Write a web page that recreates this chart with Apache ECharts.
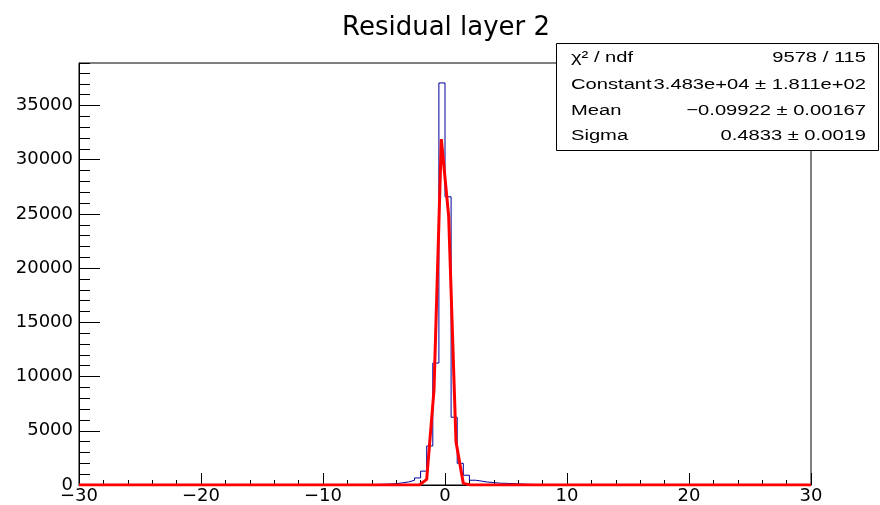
<!DOCTYPE html>
<html>
<head>
<meta charset="utf-8">
<script src="https://cdn.jsdelivr.net/npm/echarts@6/dist/echarts.min.js"></script>
<style>
html,body{margin:0;padding:0;background:#fff;}
#chart{width:880px;height:505px;}
</style>
</head>
<body>
<div id="chart"></div>
<script>
// ---- data ----
const chartTitle = 'Residual layer 2';
const xMin = -30, xMax = 30, binWidth = 0.5;
// 120 bins from -30 to 30 (width 0.5)
const binCounts = [
  0,0,0,0,0,0,0,0,0,0,0,0,0,0,0,0,0,0,0,0,
  0,0,0,0,0,0,0,0,0,0,0,0,0,0,0,0,0,0,0,0,
  0,0,5,8,12,15,22,35,55,70,90,120,200,280,430,650,1280,3600,11250,37080,
  26580,6250,2000,900,440,360,270,230,170,150,130,110,80,60,45,30,20,15,10,5,
  0,0,0,0,0,0,0,0,0,0,0,0,0,0,0,0,0,0,0,0,
  0,0,0,0,0,0,0,0,0,0,0,0,0,0,0,0,0,0,0,0
];
// fitted curve as drawn (polyline vertices)
const fitX = [-30, -2.1, -1.5, -0.9, -0.3, 0.3, 0.9, 1.5, 2.1, 30];
const fitY = [0, 5, 520, 8800, 31900, 24800, 4000, 150, 2, 0];
// tick labels
const xTickValues = [-30, -20, -10, 0, 10, 20, 30];
const xTickLabels = ['\u221230', '\u221220', '\u221210', '0', '10', '20', '30'];
const yTickValues = [0, 5000, 10000, 15000, 20000, 25000, 30000, 35000];
const yTickLabels = ['0', '5000', '10000', '15000', '20000', '25000', '30000', '35000'];
const yMax = 38920;
// stats box
const statNames = ['\u03C7\u00B2 / ndf', 'Constant', 'Mean', 'Sigma'];
const statValues = ['9578 / 115', '3.483e+04 \u00B1 1.811e+02', '\u22120.09922 \u00B1 0.00167', '0.4833 \u00B1 0.0019'];

// ---- build series data ----
const histData = binCounts.map((c, i) => [xMin + i * binWidth, c]);
histData.push([xMax, binCounts[binCounts.length - 1]]);
const fitData = fitX.map((x, i) => [x, fitY[i]]);

const chart = echarts.init(document.getElementById('chart'), null, {renderer: 'canvas'});

const statFont = '15.5px "Liberation Sans"';
const statRowsY = [58, 85, 111, 136];
const graphics = [{
  type: 'rect', z: 100,
  shape: {x: 556.5, y: 43.5, width: 322, height: 107},
  style: {fill: '#fff', stroke: '#000', lineWidth: 1}
}];
statNames.forEach((n, i) => {
  graphics.push({
    type: 'text', z: 101, x: 571, y: statRowsY[i], scaleX: 1.3,
    style: {text: n, x: 0, y: 0, align: 'left', verticalAlign: 'middle', font: statFont, fill: '#000'}
  });
  graphics.push({
    type: 'text', z: 101, x: 866, y: statRowsY[i], scaleX: 1.3,
    style: {text: statValues[i], x: 0, y: 0, align: 'right', verticalAlign: 'middle', font: statFont, fill: '#000'}
  });
});

const axisFont = 'DejaVu Sans';
chart.setOption({
  animation: false,
  backgroundColor: '#fff',
  title: {
    text: chartTitle, left: 337, top: 10,
    textStyle: {fontFamily: axisFont, fontSize: 26, fontWeight: 'normal', color: '#000'}
  },
  grid: {left: 79, right: 69, top: 63, bottom: 19, show: true, borderColor: '#000', borderWidth: 1, backgroundColor: 'transparent'},
  xAxis: {
    type: 'value', min: xMin, max: xMax, interval: 10,
    axisLine: {show: true, onZero: false, lineStyle: {color: '#000', width: 1}},
    axisTick: {show: true, inside: true, length: 12, lineStyle: {color: '#000'}},
    minorTick: {show: true, splitNumber: 5, length: 5, lineStyle: {color: '#000'}},
    axisLabel: {
      margin: 2, color: '#000', fontFamily: axisFont, fontSize: 18,
      formatter: v => { const k = xTickValues.indexOf(v); return k >= 0 ? xTickLabels[k] : ''; }
    },
    splitLine: {show: false}
  },
  yAxis: [{
    type: 'value', min: 0, max: yMax, interval: 5000, position: 'left',
    axisLine: {show: true, onZero: false, lineStyle: {color: '#000', width: 1}},
    axisTick: {show: true, inside: true, length: 21, lineStyle: {color: '#000'}},
    axisLabel: {
      margin: 6, color: '#000', fontFamily: axisFont, fontSize: 18, showMaxLabel: false,
      formatter: v => { const k = yTickValues.indexOf(v); return k >= 0 ? yTickLabels[k] : ''; }
    },
    splitLine: {show: false}
  }, {
    type: 'value', min: 0, max: yMax, interval: 1000, position: 'left', offset: 0,
    axisLine: {show: false, onZero: false},
    axisTick: {show: true, inside: true, length: 11, lineStyle: {color: '#000'}},
    axisLabel: {show: false},
    splitLine: {show: false}
  }],
  series: [{
    type: 'line', name: 'hist', data: histData, step: 'end', yAxisIndex: 0,
    symbol: 'none', lineStyle: {color: '#000099', width: 1}, z: 3
  }, {
    type: 'line', name: 'fit', data: fitData, yAxisIndex: 0,
    symbol: 'none', lineStyle: {color: '#ff0000', width: 3}, z: 4
  }],
  graphic: graphics
});
</script>
</body>
</html>
